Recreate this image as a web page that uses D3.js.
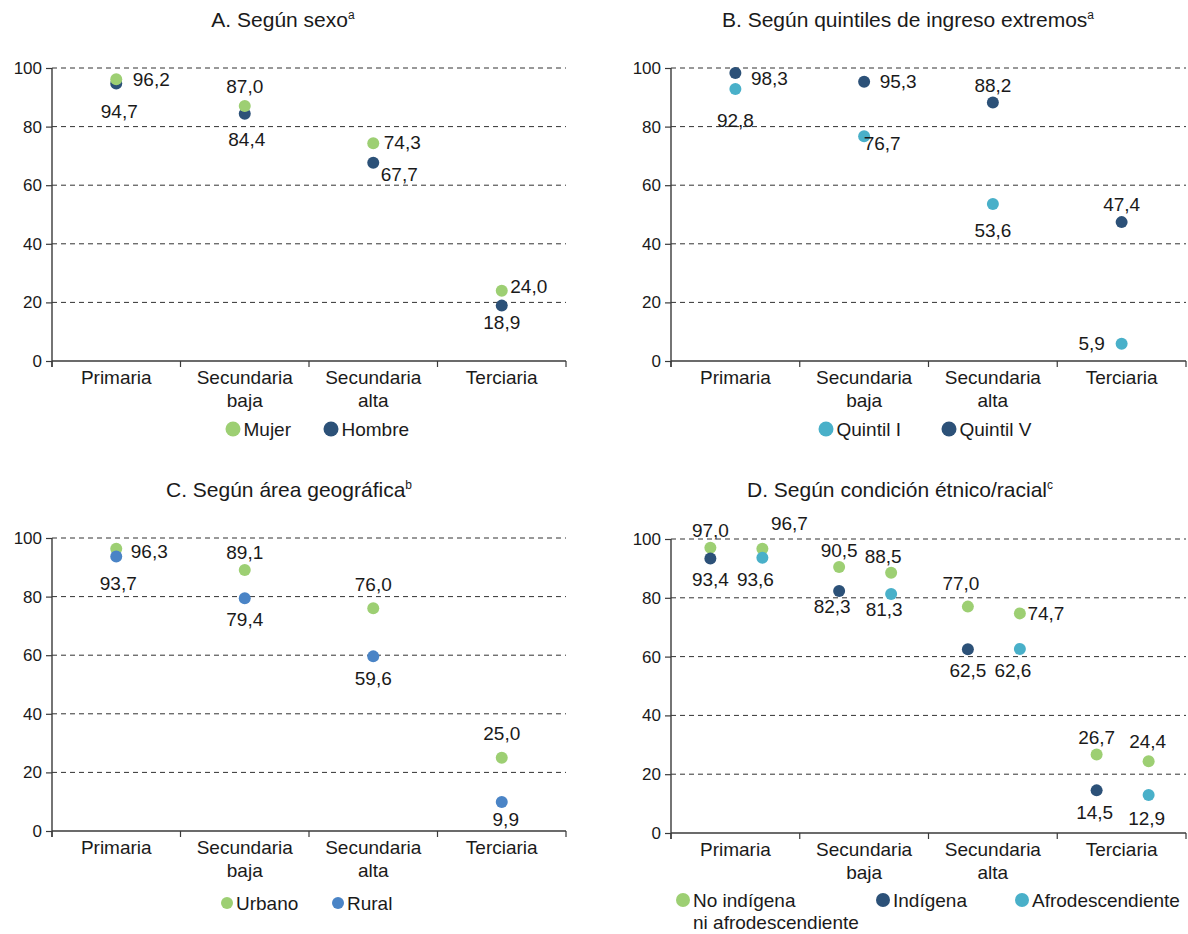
<!DOCTYPE html>
<html>
<head>
<meta charset="utf-8">
<script src="https://cdn.jsdelivr.net/npm/d3@7/dist/d3.min.js"></script>
<style>
  html, body { margin: 0; padding: 0; background: #fff; }
  svg { display: block; font-family: "Liberation Sans", Arial, sans-serif; }
</style>
</head>
<body>
<svg id="chart" width="1188" height="934"></svg>
<script>
// Education levels on the x axis (multi-line labels)
const categories = ["Primaria", "Secundaria baja", "Secundaria alta", "Terciaria"];
const categoryLines = [["Primaria"], ["Secundaria", "baja"], ["Secundaria", "alta"], ["Terciaria"]];
const yTicks = [0, 20, 40, 60, 80, 100];

// A. By sex
const mujer  = [96.2, 87.0, 74.3, 24.0];
const hombre = [94.7, 84.4, 67.7, 18.9];

// B. By extreme income quintiles
const quintilI = [92.8, 76.7, 53.6, 5.9];
const quintilV = [98.3, 95.3, 88.2, 47.4];

// C. By geographic area
const urbano = [96.3, 89.1, 76.0, 25.0];
const rural  = [93.7, 79.4, 59.6, 9.9];

// D. By ethnic/racial condition (two comparison groups per level)
const noIndigenaFrenteIndigena = [97.0, 90.5, 77.0, 26.7];
const indigena                 = [93.4, 82.3, 62.5, 14.5];
const noIndigenaFrenteAfro     = [96.7, 88.5, 74.7, 24.4];
const afrodescendiente         = [93.6, 81.3, 62.6, 12.9];

// ---------------------------------------------------------------
const C_GREEN = "#9dcf73";
const C_NAVY  = "#2c5178";
const C_TEAL  = "#49b0c9";
const C_BLUE  = "#4a84c6";
const TEXT = "#1a1a1a";
const AXIS = "#3a3a3a";

const fmt = v => d3.format(".1f")(v).replace(".", ",");

const svg = d3.select("#chart");

// value label offsets ([dx, dy] of the text center from its dot)
const panels = [
  {
    title: "A. Según sexo", sup: "a", titleX: 283, titleY: 27,
    x0: 52, x1: 566, yTop: 68, yBot: 361,
    series: [
      { name: "Hombre", values: hombre, color: C_NAVY,
        offs: [[3, 28], [2, 26], [26, 12], [0, 17]] },
      { name: "Mujer",  values: mujer,  color: C_GREEN,
        offs: [[35, 0], [0, -20], [29, -1], [27, -4]] }
    ],
    legend: { y: 429, r: 7.5, gap: 21, items: [
      { label: ["Mujer"],  color: C_GREEN, cx: 233 },
      { label: ["Hombre"], color: C_NAVY,  cx: 331 }
    ] }
  },
  {
    title: "B. Según quintiles de ingreso extremos", sup: "a", titleX: 908, titleY: 27,
    x0: 671, x1: 1186, yTop: 68, yBot: 361,
    series: [
      { name: "Quintil I", values: quintilI, color: C_TEAL,
        offs: [[0, 31], [18, 7], [0, 26], [-30, 0]] },
      { name: "Quintil V", values: quintilV, color: C_NAVY,
        offs: [[34, 5], [34, 0], [0, -17], [0, -18]] }
    ],
    legend: { y: 429, r: 7.5, gap: 21, items: [
      { label: ["Quintil I"], color: C_TEAL, cx: 826 },
      { label: ["Quintil V"], color: C_NAVY, cx: 949 }
    ] }
  },
  {
    title: "C. Según área geográfica", sup: "b", titleX: 289, titleY: 497,
    x0: 52, x1: 566, yTop: 538, yBot: 831,
    series: [
      { name: "Urbano", values: urbano, color: C_GREEN,
        offs: [[33, 3], [0, -18], [0, -24], [0, -24]] },
      { name: "Rural",  values: rural,  color: C_BLUE,
        offs: [[2, 27], [0, 21], [0, 22], [4, 17]] }
    ],
    legend: { y: 903, r: 6, gap: 21, items: [
      { label: ["Urbano"], color: C_GREEN, cx: 227 },
      { label: ["Rural"],  color: C_BLUE,  cx: 338 }
    ] }
  },
  {
    title: "D. Según condición étnico/racial", sup: "c", titleX: 900, titleY: 497,
    x0: 671, x1: 1186, yTop: 539, yBot: 833,
    groups: ["izq", "der"],
    series: [
      { name: "No indígena ni afrodescendiente", group: "izq", values: noIndigenaFrenteIndigena, color: C_GREEN,
        offs: [[0, -17], [0, -17], [-7, -23], [0, -17]] },
      { name: "Indígena", group: "izq", values: indigena, color: C_NAVY,
        offs: [[0, 21], [-7, 15], [0, 21], [-2, 22]] },
      { name: "No indígena ni afrodescendiente", group: "der", values: noIndigenaFrenteAfro, color: C_GREEN,
        offs: [[27, -25], [-8, -16], [26, 0], [-1, -20]] },
      { name: "Afrodescendiente", group: "der", values: afrodescendiente, color: C_TEAL,
        offs: [[-7, 22], [-7, 15], [-7, 21], [-2, 23]] }
    ],
    legend: { y: 900, r: 7, gap: 22, items: [
      { label: ["No indígena", "ni afrodescendiente"], color: C_GREEN, cx: 683 },
      { label: ["Indígena"], color: C_NAVY, cx: 883 },
      { label: ["Afrodescendiente"], color: C_TEAL, cx: 1022 }
    ] }
  }
];

panels.forEach(p => {
  const g = svg.append("g");

  const x = d3.scaleBand().domain(categories).range([p.x0, p.x1]).padding(0);
  const y = d3.scaleLinear().domain([0, 100]).range([p.yBot, p.yTop]);

  // offset inside a band for the paired comparisons
  let sub = null;
  if (p.groups) {
    const bw = x.bandwidth();
    sub = d3.scalePoint().domain(p.groups).range([bw / 2 - 25, bw / 2 + 27]);
  }
  const cx = (s, i) => x(categories[i]) + (sub ? sub(s.group) : x.bandwidth() / 2);

  // title with superscript note mark
  const t = g.append("text")
    .attr("x", p.titleX).attr("y", p.titleY)
    .attr("text-anchor", "middle")
    .attr("font-size", 21).attr("fill", TEXT)
    .text(p.title);
  t.append("tspan").attr("font-size", 12).attr("dy", -8).text(p.sup);

  // dashed gridlines
  g.append("g").selectAll("line")
    .data(yTicks.filter(d => d > 0))
    .join("line")
    .attr("x1", p.x0).attr("x2", p.x1)
    .attr("y1", d => y(d)).attr("y2", d => y(d))
    .attr("stroke", "#333").attr("stroke-width", 1)
    .attr("stroke-dasharray", "5,4");

  // y axis
  const yAxis = g.append("g")
    .attr("transform", `translate(${p.x0},0)`)
    .call(d3.axisLeft(y).tickValues(yTicks).tickSize(6).tickPadding(4).tickFormat(d3.format("d")));
  yAxis.select(".domain").attr("d", `M0,${y(100)}V${p.yBot + 6}`).attr("stroke", AXIS).attr("stroke-width", 1.4);
  yAxis.selectAll(".tick line").attr("stroke", AXIS).attr("stroke-width", 1.2);
  yAxis.selectAll(".tick text")
    .attr("font-size", 17).attr("fill", TEXT)
    .attr("font-family", "Liberation Sans, Arial, sans-serif");

  // x axis with ticks on band boundaries
  const edges = categories.map(c => x(c)).concat([p.x1]);
  g.append("line")
    .attr("x1", p.x0).attr("x2", p.x1)
    .attr("y1", y(0)).attr("y2", y(0))
    .attr("stroke", AXIS).attr("stroke-width", 1.4);
  g.append("g").selectAll("line")
    .data(edges)
    .join("line")
    .attr("x1", d => d).attr("x2", d => d)
    .attr("y1", y(0)).attr("y2", y(0) + 6)
    .attr("stroke", AXIS).attr("stroke-width", 1.2);

  const catG = g.append("g").selectAll("text")
    .data(categories)
    .join("text")
    .attr("x", d => x(d) + x.bandwidth() / 2)
    .attr("y", y(0) + 23)
    .attr("text-anchor", "middle")
    .attr("font-size", 19).attr("fill", TEXT);
  catG.each(function (d, i) {
    d3.select(this).selectAll("tspan")
      .data(categoryLines[i])
      .join("tspan")
      .attr("x", x(d) + x.bandwidth() / 2)
      .attr("dy", (_, j) => j === 0 ? 0 : 23)
      .text(s => s);
  });

  // dots
  p.series.forEach(s => {
    g.append("g").selectAll("circle")
      .data(s.values)
      .join("circle")
      .attr("cx", (v, i) => cx(s, i)).attr("cy", v => y(v))
      .attr("r", 6).attr("fill", s.color);
  });
  // value labels
  p.series.forEach(s => {
    g.append("g").selectAll("text")
      .data(s.values)
      .join("text")
      .attr("x", (v, i) => cx(s, i) + s.offs[i][0])
      .attr("y", (v, i) => y(v) + s.offs[i][1])
      .attr("dy", "0.35em")
      .attr("text-anchor", "middle")
      .attr("font-size", 19).attr("fill", TEXT)
      .text(v => fmt(v));
  });

  // legend
  const lg = g.append("g");
  p.legend.items.forEach(it => {
    lg.append("circle")
      .attr("cx", it.cx).attr("cy", p.legend.y)
      .attr("r", p.legend.r).attr("fill", it.color);
    const tx = it.cx + p.legend.r + 3;
    lg.append("text")
      .attr("x", tx)
      .attr("y", p.legend.y)
      .attr("font-size", 19).attr("fill", TEXT)
      .selectAll("tspan")
      .data(it.label)
      .join("tspan")
      .attr("x", tx)
      .attr("dy", (_, j) => j === 0 ? "0.35em" : String(p.legend.gap))
      .text(d => d);
  });
});
</script>
</body>
</html>
